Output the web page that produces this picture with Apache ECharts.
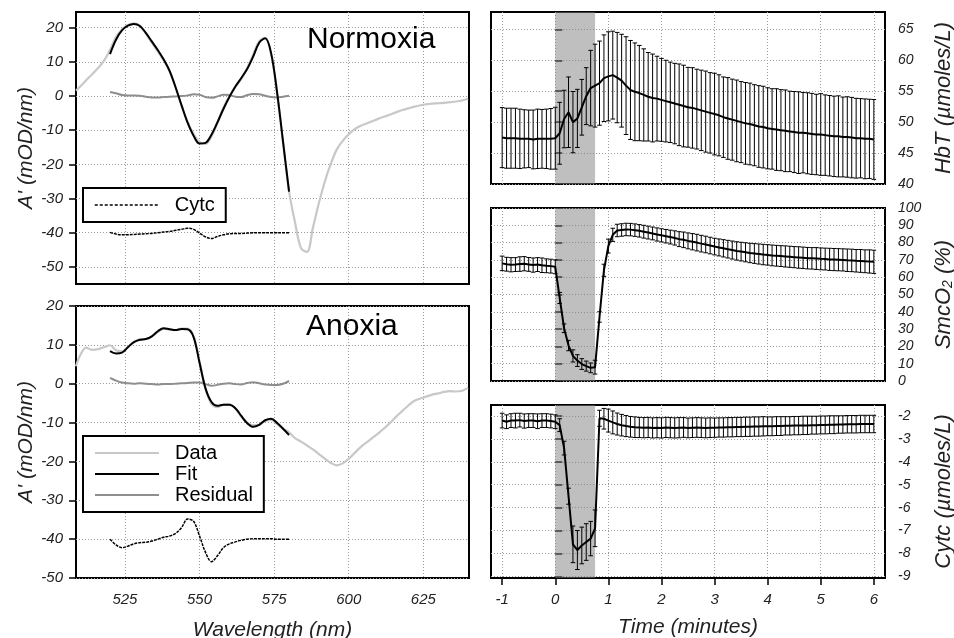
<!DOCTYPE html>
<html><head><meta charset="utf-8">
<script src="https://cdn.jsdelivr.net/npm/echarts@6/dist/echarts.min.js"></script>
<style>html,body{margin:0;padding:0;background:#fff}#c{width:954px;height:638px}</style>
</head><body><div id="c"></div>
<script>
// ---------- spectra (left panels) ----------
const fitWL = [520,522,524,526,528,530,532,534,536,538,540,542,544,546,548,550,552,554,556,558,560,562,564,566,568,570,572,574,576,578,580];
const dataWL = [508.6,510,512,514,516,518,520,522,524,526,528,530,532,534,536,538,540,542,544,546,548,550,552,554,556,558,560,562,564,566,568,570,572,574,576,578,580,582,584,586,588,590,592,594,596,598,600,602,604,606,608,610,612,614,616,618,620,622,624,626,628,630,632,634,636,638,640];

const normData = [1.6,2.8,4.6,6.4,8.2,10.4,13.5,17.3,19.5,20.8,21.3,20.6,18.3,15.6,13.1,10.4,7.1,2.4,-2.8,-7.6,-11.1,-13.5,-14.0,-11.8,-7.8,-3.4,0.0,2.6,5.0,8.3,12.2,16.1,17.0,12.2,0.6,-13.7,-27.9,-37.0,-44.5,-45.6,-38.5,-31.3,-25.0,-19.8,-15.6,-13.1,-11.2,-9.7,-8.7,-8.0,-7.3,-6.6,-6.0,-5.4,-4.7,-4.1,-3.6,-3.1,-2.7,-2.4,-2.2,-2.1,-2.0,-1.8,-1.6,-1.3,-0.8];
const normFit = [12.3,16.5,19.2,20.6,21.1,20.5,18.5,16.0,13.5,10.7,7.3,2.5,-2.8,-7.8,-11.6,-13.9,-13.7,-11.3,-7.7,-3.8,-0.3,2.8,5.3,8.0,11.6,15.6,16.9,12.5,1.0,-13.5,-28.0];
const normRes = [1.2,0.8,0.3,0.2,0.2,0.1,-0.2,-0.4,-0.4,-0.3,-0.2,-0.1,0.0,0.2,0.5,0.4,-0.3,-0.5,-0.1,0.4,0.3,-0.2,-0.3,0.3,0.6,0.5,0.1,-0.3,-0.4,-0.2,0.1];
const normCytc = [-39.9,-40.4,-40.6,-40.6,-40.5,-40.4,-40.3,-40.2,-40.0,-39.8,-39.6,-39.3,-39.0,-38.7,-39.0,-40.1,-41.2,-41.7,-41.1,-40.6,-40.3,-40.2,-40.2,-40.1,-40.0,-40.0,-40.0,-40.0,-40.0,-40.0,-40.0];

const anoxData = [4.5,7.3,9.3,8.7,8.9,9.4,9.9,8.6,8.3,9.5,10.7,11.4,11.5,12.1,13.3,14.2,13.9,13.8,14.2,14.2,12.3,5.7,-1.3,-5.2,-6.0,-5.4,-5.3,-6.4,-8.5,-10.0,-10.7,-10.5,-9.6,-9.3,-10.4,-11.6,-12.5,-14.0,-14.9,-15.9,-16.9,-18.1,-19.3,-20.4,-21.0,-20.5,-19.3,-17.8,-16.3,-15.1,-13.9,-12.7,-11.4,-10.0,-8.4,-7.0,-5.6,-4.4,-3.8,-3.3,-2.8,-2.5,-2.1,-1.9,-2.0,-1.8,-1.0];
const anoxFit = [8.4,7.8,8.0,9.4,10.7,11.3,11.5,12.2,13.5,14.3,14.0,13.8,14.1,14.0,12.0,5.4,-1.2,-4.7,-5.7,-5.4,-5.4,-6.3,-8.3,-10.2,-11.1,-10.6,-9.4,-9.0,-10.1,-11.6,-13.2];
const anoxRes = [1.5,0.8,0.3,0.1,0.0,0.1,0.0,-0.1,-0.2,-0.1,-0.1,0.0,0.1,0.2,0.3,0.3,-0.1,-0.5,-0.3,0.0,0.1,-0.1,-0.2,0.2,0.4,0.1,-0.2,-0.3,-0.3,0.0,0.7];
const anoxCytc = [-40.0,-41.5,-42.2,-41.8,-41.2,-40.9,-40.8,-40.5,-40.0,-39.5,-39.2,-38.5,-37.0,-34.8,-35.4,-39.2,-43.4,-45.8,-44.3,-42.2,-41.2,-40.7,-40.3,-40.0,-39.9,-39.9,-39.9,-39.9,-40.0,-40.0,-40.0];

// ---------- time courses (right panels), time in seconds ----------
const timeSec = [-60,-55,-50,-45,-40,-35,-30,-25,-20,-15,-10,-5,0,5,10,15,20,25,30,35,40,45,50,55,60,65,70,75,80,85,90,95,100,105,110,115,120,125,130,135,140,145,150,155,160,165,170,175,180,185,190,195,200,205,210,215,220,225,230,235,240,245,250,255,260,265,270,275,280,285,290,295,300,305,310,315,320,325,330,335,340,345,350,355,360];

const hbtMean = [47.5,47.4,47.4,47.4,47.3,47.3,47.3,47.2,47.3,47.3,47.3,47.3,
 47.4,48.2,50.5,51.6,50.0,50.6,52.4,54.2,55.5,55.9,56.3,57.1,
 57.4,57.6,57.2,56.7,55.9,55.2,54.9,54.7,54.4,54.1,53.9,53.8,
 53.6,53.4,53.2,53.0,52.8,52.6,52.4,52.3,52.1,51.9,51.7,51.5,
 51.3,51.1,50.8,50.6,50.4,50.2,50.0,49.8,49.7,49.5,49.3,49.2,
 49.0,48.9,48.8,48.7,48.6,48.5,48.4,48.3,48.3,48.2,48.1,48.0,
 48.0,47.9,47.8,47.7,47.7,47.6,47.6,47.5,47.4,47.4,47.3,47.3,47.2];
const hbtSD = [4.85,4.85,4.85,4.85,4.8,4.7,4.65,4.75,4.8,4.75,4.8,4.9,
 5.0,5.0,4.65,5.7,4.95,4.7,4.5,4.6,6.1,6.7,6.8,7.0,
 7.2,7.1,7.3,7.5,7.9,8.0,7.9,7.7,7.45,7.15,7.1,6.85,
 6.7,6.6,6.5,6.5,6.6,6.6,6.45,6.5,6.45,6.5,6.55,6.5,
 6.6,6.55,6.5,6.6,6.55,6.6,6.55,6.6,6.6,6.55,6.6,6.6,
 6.55,6.5,6.6,6.55,6.6,6.5,6.55,6.6,6.5,6.55,6.55,6.5,
 6.6,6.5,6.5,6.5,6.55,6.45,6.5,6.5,6.45,6.4,6.45,6.4,6.45];

const smcMean = [68.0,67.5,67.2,67.3,67.6,67.8,67.4,67.0,67.3,66.9,66.6,66.4,
 66.0,48.0,30.5,20.5,14.5,11.8,9.8,8.6,7.6,8.0,37.0,64.0,
 78.0,84.5,87.0,87.3,87.6,87.5,87.2,86.8,86.3,85.8,85.3,84.7,
 84.2,83.7,83.2,82.7,82.0,81.6,81.0,80.5,80.0,79.4,78.9,78.3,
 77.7,77.2,76.7,76.2,75.7,75.2,74.8,74.4,74.0,73.7,73.4,73.1,
 72.9,72.6,72.4,72.2,72.0,71.8,71.6,71.4,71.2,71.0,70.9,70.8,
 70.6,70.5,70.3,70.2,70.1,70.0,69.8,69.7,69.5,69.4,69.2,69.1,68.9];
const smcSD = [4.2,4.0,4.1,4.0,4.2,4.1,4.0,4.1,4.0,4.2,4.0,4.0,
 4.0,3.2,2.5,3.0,3.5,3.4,3.1,2.9,2.8,4.0,3.0,3.5,
 4.0,3.8,3.6,3.6,3.6,3.6,3.6,3.6,3.7,3.7,3.7,3.8,
 3.8,3.9,4.0,4.1,4.3,4.5,4.6,4.7,4.8,4.8,4.8,4.8,
 4.8,4.9,5.0,5.1,5.2,5.3,5.4,5.5,5.6,5.7,5.8,5.9,
 5.9,6.0,6.0,6.0,6.1,6.1,6.1,6.2,6.2,6.2,6.2,6.3,
 6.3,6.3,6.4,6.4,6.4,6.4,6.5,6.5,6.5,6.6,6.6,6.7,6.7];

const cytMean = [-2.20,-2.25,-2.20,-2.20,-2.18,-2.22,-2.20,-2.20,-2.23,-2.20,-2.20,-2.22,
 -2.25,-2.40,-3.40,-5.50,-7.60,-7.85,-7.65,-7.50,-7.35,-6.90,-2.10,-2.12,
 -2.20,-2.28,-2.35,-2.40,-2.44,-2.47,-2.49,-2.50,-2.51,-2.50,-2.52,-2.51,
 -2.52,-2.50,-2.51,-2.52,-2.51,-2.50,-2.52,-2.51,-2.50,-2.51,-2.52,-2.51,
 -2.51,-2.50,-2.50,-2.49,-2.49,-2.48,-2.48,-2.47,-2.47,-2.46,-2.46,-2.45,
 -2.45,-2.45,-2.44,-2.44,-2.43,-2.43,-2.42,-2.42,-2.41,-2.41,-2.40,-2.40,
 -2.39,-2.39,-2.38,-2.38,-2.37,-2.37,-2.36,-2.36,-2.36,-2.35,-2.35,-2.35,-2.35];
const cytSD = [0.32,0.30,0.30,0.32,0.30,0.31,0.30,0.30,0.32,0.30,0.30,0.30,
 0.30,0.28,0.30,0.35,0.80,0.85,0.80,0.80,0.75,0.80,0.35,0.45,
 0.50,0.50,0.48,0.47,0.46,0.45,0.45,0.44,0.44,0.44,0.44,0.44,
 0.44,0.44,0.44,0.44,0.44,0.43,0.43,0.43,0.43,0.43,0.43,0.43,
 0.42,0.42,0.42,0.42,0.42,0.42,0.42,0.42,0.42,0.42,0.42,0.42,
 0.41,0.41,0.41,0.41,0.40,0.40,0.40,0.40,0.40,0.40,0.39,0.39,
 0.39,0.39,0.39,0.39,0.38,0.38,0.38,0.38,0.38,0.38,0.38,0.38,0.38];

// ---------- ticks ----------
const wlTicks = [525,550,575,600,625];
const aTicks = [-50,-40,-30,-20,-10,0,10,20];
const timeTicks = [-60,0,60,120,180,240,300,360];
const hbtTicks = [40,45,50,55,60,65];
const smcTicks = [0,10,20,30,40,50,60,70,80,90,100];
const cytTicks = [-9,-8,-7,-6,-5,-4,-3,-2];
const shadeSec = [[0,45]];

// ---------- chart ----------
const FONT = '"Liberation Sans", Arial, Helvetica, sans-serif';
const chart = echarts.init(document.getElementById('c'), null, {renderer:'canvas'});

const gridBoxes = [
  {left:76, top:12, width:393, height:272},
  {left:76, top:306, width:393, height:272},
  {left:491, top:12, width:394, height:172},
  {left:491, top:208, width:394, height:173},
  {left:491, top:405, width:394, height:173}
];
const grids = gridBoxes.map(g => Object.assign({show:true, borderColor:'#000', borderWidth:2, backgroundColor:'rgba(0,0,0,0)', containLabel:false, outerBoundsMode:'none'}, g));

const splitStyle = {show:true, lineStyle:{color:'#9a9a9a', width:1, type:[1,2]}};
const lblStyle = {fontFamily:FONT, fontStyle:'italic', color:'#222'};
const nameStyle = {fontFamily:FONT, fontStyle:'italic', color:'#222'};

function xAx(gi, min, max, ticks, showLbl, showTick, extra) {
  return Object.assign({
    type:'value', gridIndex:gi, min:min, max:max, position:'bottom',
    axisLine:{show:false},
    axisTick:{show:showTick, customValues:ticks, length:7, lineStyle:{color:'#000', width:1.5}},
    axisLabel:Object.assign({show:showLbl, customValues:ticks, fontSize:15, margin:14}, lblStyle),
    splitLine:splitStyle
  }, extra || {});
}
function yAx(gi, min, max, ticks, pos, extra) {
  return Object.assign({
    type:'value', gridIndex:gi, min:min, max:max, position:pos,
    axisLine:{show:false},
    axisTick:{show:true, customValues:ticks, length:7, lineStyle:{color:'#000', width:1.5}},
    axisLabel:Object.assign({show:true, customValues:ticks, fontSize:pos === 'left' ? 15 : 14, margin:13}, lblStyle),
    splitLine:splitStyle
  }, extra || {});
}

const xAxes = [
  xAx(0, 508.6, 640.3, wlTicks, false, false),
  xAx(1, 508.6, 640.3, wlTicks, true, false, {name:'Wavelength (nm)', nameLocation:'middle', nameGap:42, nameTextStyle:Object.assign({fontSize:21}, nameStyle)}),
  xAx(2, -72.6, 372.6, timeTicks, false, false),
  xAx(3, -72.6, 372.6, timeTicks, false, false),
  xAx(4, -72.6, 372.6, timeTicks, true, true, {name:'Time (minutes)', nameLocation:'middle', nameGap:39, nameTextStyle:Object.assign({fontSize:21}, nameStyle)})
];
xAxes[4].axisLabel.formatter = v => String(Math.round(v / 60));

const yAxes = [
  yAx(0, -55, 24.6, aTicks, 'left', {name:"A' (mOD/nm)", nameLocation:'middle', nameRotate:90, nameGap:39, nameTextStyle:Object.assign({fontSize:21}, nameStyle)}),
  yAx(1, -50, 20, aTicks, 'left', {name:"A' (mOD/nm)", nameLocation:'middle', nameRotate:90, nameGap:39, nameTextStyle:Object.assign({fontSize:21}, nameStyle)}),
  yAx(2, 40, 67.8, hbtTicks, 'right', {name:'HbT (µmoles/L)', nameLocation:'middle', nameRotate:90, nameGap:48, nameTextStyle:Object.assign({fontSize:22}, nameStyle)}),
  yAx(3, 0, 100, smcTicks, 'right', {name:'SmcO{s|2} (%)', nameLocation:'middle', nameRotate:90, nameGap:48, nameTextStyle:Object.assign({fontSize:22, rich:{s:{fontFamily:FONT, fontStyle:'italic', color:'#222', fontSize:14, verticalAlign:'bottom', padding:[8,0,0,0]}}}, nameStyle)}),
  yAx(4, -9.07, -1.52, cytTicks, 'right', {name:'Cytc (µmoles/L)', nameLocation:'middle', nameRotate:90, nameGap:48, nameTextStyle:Object.assign({fontSize:22}, nameStyle)})
];

function lineS(name, gi, xs, ys, color, width, extra) {
  return Object.assign({
    name:name, type:'line', xAxisIndex:gi, yAxisIndex:gi, symbol:'none', smooth:0.35,
    data: xs.map((x, i) => [x, ys[i]]),
    lineStyle:{color:color, width:width}, itemStyle:{color:color}, z:3, silent:true
  }, extra || {});
}

function shadeS(gi) {
  return {
    type:'custom', xAxisIndex:gi, yAxisIndex:gi, z:1, silent:true,
    data: shadeSec, encode:{x:[0,1]},
    renderItem(params, api) {
      const cs = params.coordSys;
      const x0 = api.coord([api.value(0), 0])[0];
      const x1 = api.coord([api.value(1), 0])[0];
      return {type:'rect', shape:{x:x0, y:cs.y, width:x1 - x0, height:cs.height}, style:{fill:'rgba(128,128,128,0.5)'}};
    }
  };
}
function errS(gi, mean, sd) {
  return {
    type:'custom', xAxisIndex:gi, yAxisIndex:gi, z:3, silent:true,
    data: timeSec.map((t, i) => [t, mean[i] - sd[i], mean[i] + sd[i]]),
    encode:{x:0, y:[1,2]},
    renderItem(params, api) {
      const lo = api.coord([api.value(0), api.value(1)]);
      const hi = api.coord([api.value(0), api.value(2)]);
      const w = 2.3;
      const st = {stroke:'#000', lineWidth:1};
      return {type:'group', children:[
        {type:'line', shape:{x1:lo[0], y1:lo[1], x2:hi[0], y2:hi[1]}, style:st},
        {type:'line', shape:{x1:hi[0] - w, y1:hi[1], x2:hi[0] + w, y2:hi[1]}, style:st},
        {type:'line', shape:{x1:lo[0] - w, y1:lo[1], x2:lo[0] + w, y2:lo[1]}, style:st}
      ]};
    }
  };
}
function meanS(name, gi, mean) {
  return {name:name, type:'line', xAxisIndex:gi, yAxisIndex:gi, symbol:'none', z:4, silent:true,
    data: timeSec.map((t, i) => [t, mean[i]]), lineStyle:{color:'#000', width:2}};
}

const GRAY_D = '#c8c8c8', GRAY_R = '#8e8e8e';
const series = [
  lineS('Data', 0, dataWL, normData, GRAY_D, 2.2, {z:2}),
  lineS('Residual', 0, fitWL, normRes, GRAY_R, 2),
  lineS('Fit', 0, fitWL, normFit, '#000', 2, {z:4}),
  lineS('Cytc', 0, fitWL, normCytc, '#000', 1.5, {lineStyle:{color:'#000', width:1.5, type:[3,1]}}),
  lineS('Data', 1, dataWL, anoxData, GRAY_D, 2.2, {z:2}),
  lineS('Residual', 1, fitWL, anoxRes, GRAY_R, 2),
  lineS('Fit', 1, fitWL, anoxFit, '#000', 2, {z:4}),
  lineS('Cytc', 1, fitWL, anoxCytc, '#000', 1.5, {lineStyle:{color:'#000', width:1.5, type:[3,1]}}),
  shadeS(2), errS(2, hbtMean, hbtSD), meanS('HbT', 2, hbtMean),
  shadeS(3), errS(3, smcMean, smcSD), meanS('SmcO2', 3, smcMean),
  shadeS(4), errS(4, cytMean, cytSD), meanS('CytcT', 4, cytMean)
];

const legendBase = {
  orient:'vertical', padding:[7,11,7,11], borderColor:'#000', borderWidth:2, borderRadius:0,
  backgroundColor:'#fff', itemWidth:64, itemHeight:14, itemGap:1, selectedMode:false,
  itemStyle:{opacity:0, borderWidth:0},
  textStyle:{fontFamily:FONT, fontSize:20, color:'#000', padding:[0,0,0,11]}
};

chart.setOption({
  animation:false,
  backgroundColor:'#fff',
  textStyle:{fontFamily:FONT},
  grid: grids,
  xAxis: xAxes,
  yAxis: yAxes,
  legend:[
    Object.assign({}, legendBase, {left:83, top:188, data:[{name:'Cytc', lineStyle:{type:[3,2], width:1.5}}]}),
    Object.assign({}, legendBase, {left:83, top:436, data:['Data','Fit','Residual']})
  ],
  graphic:[
    {type:'text', x:307, y:40, z:10, style:{text:'Normoxia', font:'30px ' + FONT, fill:'#000', verticalAlign:'middle', align:'left'}},
    {type:'text', x:306, y:327, z:10, style:{text:'Anoxia', font:'30px ' + FONT, fill:'#000', verticalAlign:'middle', align:'left'}}
  ],
  series: series
});
</script>
</body></html>
